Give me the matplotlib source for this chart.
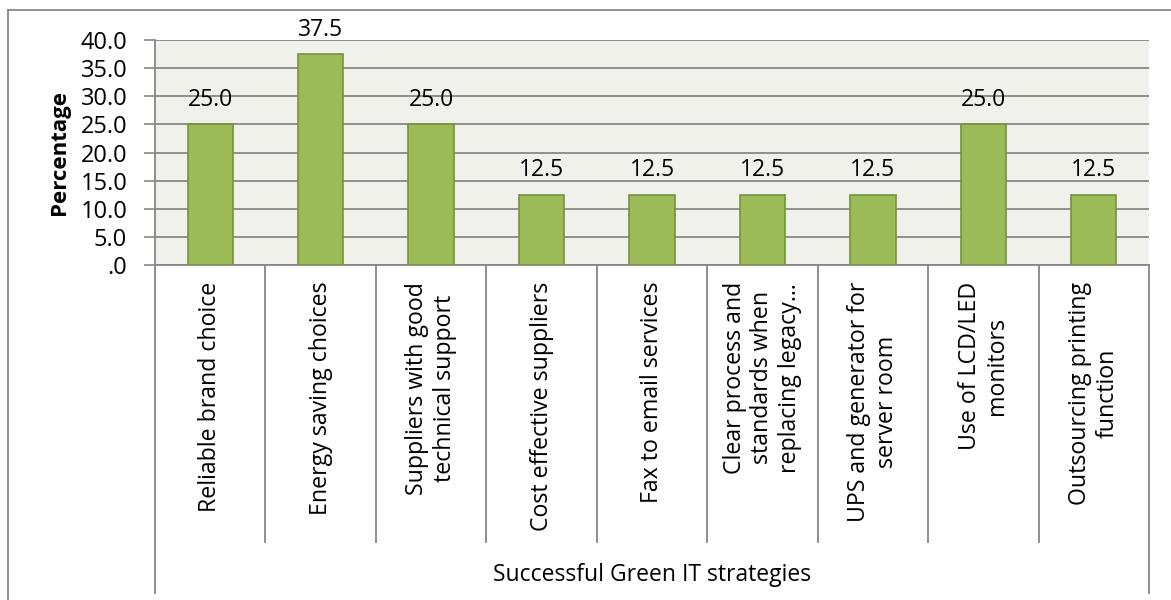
import matplotlib.pyplot as plt
from matplotlib.lines import Line2D

plt.rcParams['font.family'] = ['Open Sans', 'DejaVu Sans']

# %% data
strategies = ["Reliable brand choice", "Energy saving choices",
              "Suppliers with good\ntechnical support", "Cost effective suppliers",
              "Fax to email services",
              "Clear process and\nstandards when\nreplacing legacy…",
              "UPS and generator for\nserver room", "Use of LCD/LED\nmonitors",
              "Outsourcing printing\nfunction"]
percentages = [25.0, 37.5, 25.0, 12.5, 12.5, 12.5, 12.5, 25.0, 12.5]
y_ticks = [0, 5, 10, 15, 20, 25, 30, 35, 40]
group_label = "Successful Green IT strategies"

W, H = 1171, 600
grey = '#878787'

# %% figure and axes placed in pixel terms
fig = plt.figure(figsize=(W / 100, H / 100), dpi=100)
left, right, top, bottom = 155, 1149, 40, 265
ax = fig.add_axes([left / W, 1 - bottom / H, (right - left) / W, (bottom - top) / H])
ax.set_facecolor('#eff1ea')

x = range(len(strategies))
bars = ax.bar(x, percentages, width=0.41, color='#9bbb59', edgecolor='#77933c',
              linewidth=1.2, zorder=3)
ax.bar_label(bars, labels=[f"{v:.1f}" for v in percentages], padding=9,
             fontsize=16.5, zorder=4)

ax.set_xlim(-0.5, len(strategies) - 0.5)
ax.set_ylim(0, 40)
ax.set_yticks(y_ticks)
ax.set_yticklabels([f"{v:.1f}".lstrip('0') if v == 0 else f"{v:.1f}" for v in y_ticks],
                   fontsize=17)
ax.tick_params(axis='y', length=8, width=1.2, color=grey, pad=12)
ax.grid(axis='y', color=grey, linewidth=1.3, zorder=1)

ax.set_xticks(list(x))
ax.set_xticklabels(strategies, rotation=90, ha='center', va='top',
                   multialignment='center', fontsize=16.7)
ax.tick_params(axis='x', length=0, pad=12)

for s in ['top', 'right']:
    ax.spines[s].set_visible(False)
for s in ['left', 'bottom']:
    ax.spines[s].set_color(grey)
    ax.spines[s].set_linewidth(1.3)

# category dividers and outer group lines below the axis
h = bottom - top
div_end = -(542 - bottom) / h
grp_end = -(593 - bottom) / h
trans = ax.get_xaxis_transform()
for b in range(1, len(strategies)):
    ax.plot([b - 0.5, b - 0.5], [0, div_end], color=grey, lw=1.3,
            transform=trans, clip_on=False)
for b in [-0.5, len(strategies) - 0.5]:
    ax.plot([b, b], [0, grp_end], color=grey, lw=1.3,
            transform=trans, clip_on=False)
ax.text((len(strategies) - 1) / 2, -(575 - bottom) / h, group_label,
        transform=trans, ha='center', va='center', fontsize=16.5)

# y label
fig.text(60 / W, 1 - 152.5 / H, 'Percentage', rotation=90, ha='center',
         va='center', fontsize=16, fontweight='bold')

# outer chart frame
fig.add_artist(Line2D([8 / W, 8 / W], [0, 1 - 10 / H], color=grey, lw=1.3))
fig.add_artist(Line2D([8 / W, 1], [1 - 10 / H, 1 - 10 / H], color=grey, lw=1.3))

plt.savefig('out.png', dpi=100)
